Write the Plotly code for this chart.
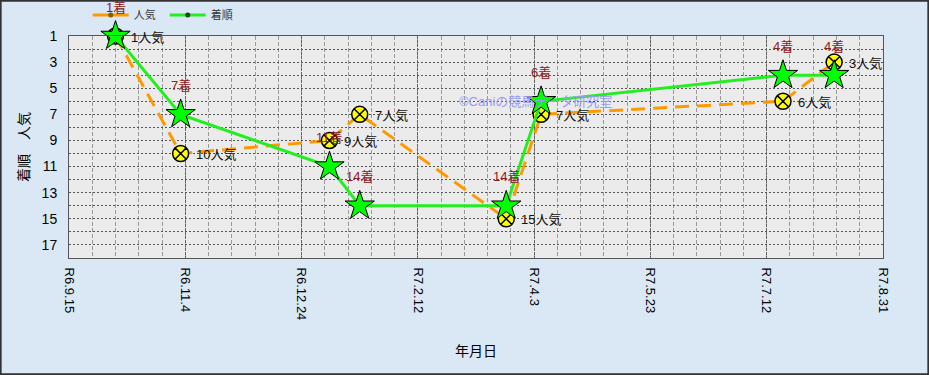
import plotly.graph_objects as go

# ---- data ----
race_dates = ["2024-10-05", "2024-11-02", "2025-01-05", "2025-01-18",
              "2025-03-22", "2025-04-06", "2025-07-19", "2025-08-10"]
finish = [1, 7, 11, 14, 14, 6, 4, 4]          # 着順
popularity = [1, 10, 9, 7, 15, 7, 6, 3]       # 人気
tick_dates = ["2024-09-15", "2024-11-04", "2024-12-24", "2025-02-12",
              "2025-04-03", "2025-05-23", "2025-07-12", "2025-08-31"]
tick_labels = ["R6.9.15", "R6.11.4", "R6.12.24", "R7.2.12",
               "R7.4.3", "R7.5.23", "R7.7.12", "R7.8.31"]
y_ticks = [1, 3, 5, 7, 9, 11, 13, 15, 17]

FONT = "Liberation Sans, Arial, Noto Sans CJK JP, sans-serif"
ORANGE = "#FF9900"
GREEN = "#22EE22"

fig = go.Figure()

# 人気 line
fig.add_trace(go.Scatter(
    x=race_dates, y=popularity, mode="lines+markers", showlegend=False,
    line=dict(color=ORANGE, width=3, dash="14px,8px"),
    marker=dict(symbol="circle-x", size=16, color="#FFFF00",
                line=dict(color="#000000", width=1.5)),
    cliponaxis=False))

# 着順 line
fig.add_trace(go.Scatter(
    x=race_dates, y=finish, mode="lines+markers", showlegend=False,
    line=dict(color=GREEN, width=3),
    marker=dict(symbol="star", size=22, color="#00FF00",
                line=dict(color="#000000", width=1)),
    cliponaxis=False))

# legend-only traces
fig.add_trace(go.Scatter(
    x=[None], y=[None], mode="lines+markers", name="人気",
    line=dict(color=ORANGE, width=3),
    marker=dict(symbol="circle", size=5, color="#806000")))
fig.add_trace(go.Scatter(
    x=[None], y=[None], mode="lines+markers", name="着順",
    line=dict(color=GREEN, width=3),
    marker=dict(symbol="circle", size=5, color="#104010")))

annotations = []
for d, f in zip(race_dates, finish):
    annotations.append(dict(
        x=d, y=f, xref="x", yref="y", text=f"{f}着", showarrow=False,
        yshift=29, font=dict(family=FONT, size=13, color="#8B2020")))
for d, p in zip(race_dates, popularity):
    annotations.append(dict(
        x=d, y=p, xref="x", yref="y", text=f"{p}人気", showarrow=False,
        xanchor="left", xshift=13, yshift=-1,
        font=dict(family=FONT, size=13, color="#111111")))

annotations.append(dict(
    x=(535 - 69) / 814, y=1 - (92 - 36) / 222, xref="paper", yref="paper",
    text="©Caniの競馬データ研究室", showarrow=False,
    font=dict(family=FONT, size=13, color="#9A9AF0")))

shapes = [dict(
    type="rect", xref="paper", yref="paper",
    x0=-69 / 814 + 0.0008, x1=1 + 46 / 814 - 0.0008,
    y0=-117 / 222 + 0.003, y1=1 + 36 / 222 - 0.003,
    line=dict(color="#333333", width=2), layer="below")]

fig.update_layout(
    width=929, height=375,
    margin=dict(l=69, r=46, t=36, b=117, autoexpand=False),
    paper_bgcolor="#DAE8F6",
    plot_bgcolor="#EBEBEB",
    font=dict(family=FONT, size=13, color="#000000"),
    showlegend=True,
    legend=dict(orientation="h", x=0.023, y=1 + (36 - 15) / 222,
                xanchor="left", yanchor="middle",
                font=dict(family=FONT, size=11, color="#333333"),
                bgcolor="rgba(0,0,0,0)", itemwidth=36,
                entrywidth=26, entrywidthmode="pixels"),
    annotations=annotations,
    shapes=shapes,
    xaxis=dict(
        type="date", range=["2024-09-15", "2025-08-31"],
        tickmode="array", tickvals=tick_dates, ticktext=tick_labels,
        tickangle=90, tickfont=dict(family=FONT, size=13, color="#000000"),
        ticks="outside", ticklen=6, tickcolor="rgba(0,0,0,0)",
        showgrid=True, gridcolor="#666666", gridwidth=1, griddash="3px,1px",
        showline=True, linecolor="#555555", linewidth=1, mirror=True,
        minor=dict(tick0="2024-09-15", dtick=10 * 86400000, showgrid=True,
                   gridcolor="#9A9A9A", griddash="4px,2px", gridwidth=1),
        title=dict(text="年月日", font=dict(family=FONT, size=14),
                   standoff=26),
        zeroline=False),
    yaxis=dict(
        range=[18, 1], tickmode="array", tickvals=y_ticks,
        tickfont=dict(family=FONT, size=14, color="#000000"),
        ticks="outside", ticklen=8, tickcolor="rgba(0,0,0,0)",
        showgrid=True, gridcolor="#555555", griddash="2px,2px", gridwidth=1,
        minor=dict(dtick=1, tick0=0, showgrid=True, gridcolor="#555555",
                   griddash="2px,2px", gridwidth=1),
        showline=True, linecolor="#555555", linewidth=1, mirror=True,
        title=dict(text="着順　人気", font=dict(family=FONT, size=14),
                   standoff=8),
        zeroline=False),
)

fig.write_html("out.html")
